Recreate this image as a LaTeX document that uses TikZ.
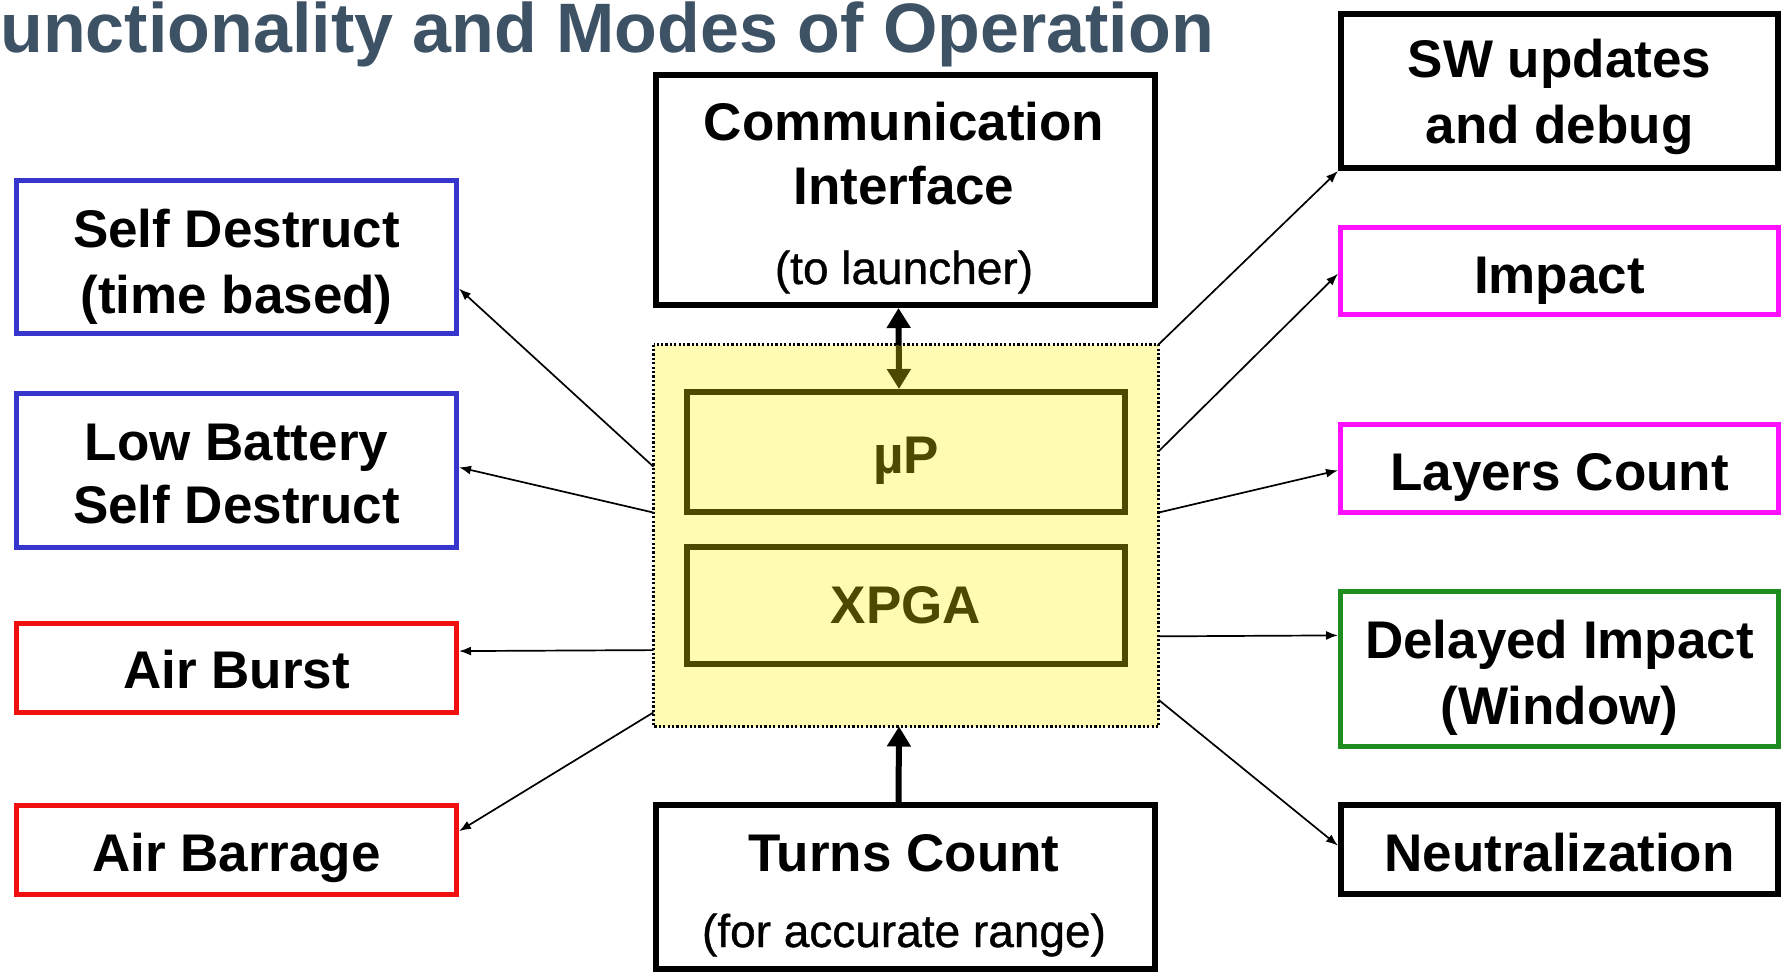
\documentclass[tikz,border=0pt]{standalone}
\usepackage{fontspec}
\setmainfont{Liberation Sans}
\usetikzlibrary{arrows.meta,calc}
\definecolor{titleblue}{HTML}{3E5266}
\definecolor{bluebox}{HTML}{3636CC}
\definecolor{magbox}{HTML}{FF10FF}
\definecolor{redbox}{HTML}{F01010}
\definecolor{greenbox}{HTML}{1E8C1E}

\begin{document}
\begin{tikzpicture}[x=0.5pt,y=-0.5pt,
  box/.style={draw, rectangle, inner sep=0pt, line width=3pt},
  cbox/.style={draw=#1, rectangle, inner sep=0pt, line width=2.5pt},
  lbl/.style={anchor=base, inner sep=0pt, font=\bfseries\fontsize{26.5}{30}\selectfont},
  sublbl/.style={anchor=base, inner sep=0pt,
    font=\fontsize{23}{27}\selectfont\addfontfeature{FakeBold=0.8}},
  link/.style={line width=0.85pt, -{Latex[length=6pt,width=4.5pt]}},
  fat/.style={line width=3pt, -{Triangle[length=10pt,width=11.5pt]}},
]
\useasboundingbox (0,0) rectangle (1787,973);

% heading
\node[anchor=base west, inner sep=0pt, text=titleblue,
      font=\bfseries\fontsize{35}{40}\selectfont] (title) at (0,53)
      {unctionality and Modes of Operation};

% upper and lower interface boxes
\node[box, minimum width=249.5pt, minimum height=115pt] (comm) at (905.5,190) {};
\node[lbl] (commA) at (904,141) {Communication};
\node[lbl] (commB) at (904,205) {Interface};
\node[sublbl] (commC) at (904,284) {(to launcher)};

\node[box, minimum width=249.5pt, minimum height=82pt] (turns) at (905.5,887) {};
\node[lbl] (turnsA) at (904,871) {Turns Count};
\node[sublbl] (turnsB) at (904,947) {(for accurate range)};

% left column
\node[cbox=bluebox, minimum width=220pt, minimum height=76.5pt] (selfd) at (236.5,257) {};
\node[lbl] (selfdA) at (236.5,248) {Self Destruct};
\node[lbl] (selfdB) at (236.5,313) {(time based)};

\node[cbox=bluebox, minimum width=220pt, minimum height=77pt] (lowbat) at (236.5,470.5) {};
\node[lbl] (lowbatA) at (236.5,460) {Low Battery};
\node[lbl] (lowbatB) at (236.5,523) {Self Destruct};

\node[cbox=redbox, minimum width=220pt, minimum height=44.5pt] (burst) at (236.5,668) {};
\node[lbl] (burstA) at (236.5,688) {Air Burst};

\node[cbox=redbox, minimum width=220pt, minimum height=44.5pt] (barrage) at (236.5,850) {};
\node[lbl] (barrageA) at (236.5,871) {Air Barrage};

% right column
\node[box, minimum width=218.5pt, minimum height=77pt] (sw) at (1559.5,91) {};
\node[lbl] (swA) at (1559.5,78) {SW updates};
\node[lbl] (swB) at (1559.5,144) {and debug};

\node[cbox=magbox, minimum width=219pt, minimum height=43.5pt] (impact) at (1559.5,271) {};
\node[lbl] (impactA) at (1559.5,293) {Impact};

\node[cbox=magbox, minimum width=219pt, minimum height=44pt] (layers) at (1559.5,468.5) {};
\node[lbl] (layersA) at (1559.5,490) {Layers Count};

\node[cbox=greenbox, minimum width=219pt, minimum height=77.5pt] (delayed) at (1559.5,669) {};
\node[lbl] (delayedA) at (1559.5,658) {Delayed Impact};
\node[lbl] (delayedB) at (1559.5,724) {(Window)};

\node[box, minimum width=218.5pt, minimum height=44.5pt] (neutral) at (1559.5,849.5) {};
\node[lbl] (neutralA) at (1559.5,871) {Neutralization};

% processing core: µP and XPGA under a translucent yellow panel
\node[rectangle, inner sep=0pt, line width=1pt, minimum width=251.5pt,
      minimum height=190pt] (core) at (906,535.5) {};
\node[box, minimum width=219pt, minimum height=60pt] (mu) at (906,452) {};
\node[lbl] (muA) at (906,473) {µP};
\node[box, minimum width=219pt, minimum height=58.5pt] (xpga) at (906,605.5) {};
\node[lbl] (xpgaA) at (906,623) {XPGA};

\draw[fat, {Triangle[length=10pt,width=11.5pt]}-{Triangle[length=10pt,width=11.5pt]}]
  ([xshift=-3.5pt]comm.south) -- ([xshift=-3.5pt]mu.north);

\fill[yellow, fill opacity=0.3] (core.north west) rectangle (core.south east);
\draw[line width=1.2pt, dash pattern=on 1.1pt off 1.1pt]
  (core.north west) rectangle (core.south east);

\draw[fat] ([xshift=-3.5pt]turns.north) -- ([xshift=-3.5pt]core.south);

% outputs to the left
\draw[link] ($(core.north west)!0.32!(core.south west)$) -- ($(selfd.north east)!0.70!(selfd.south east)$);
\draw[link] ($(core.north west)!0.44!(core.south west)$) -- ($(lowbat.north east)!0.48!(lowbat.south east)$);
\draw[link] ($(core.north west)!0.80!(core.south west)$) -- ($(burst.north east)!0.32!(burst.south east)$);
\draw[link] ($(core.north west)!0.963!(core.south west)$) -- ($(barrage.north east)!0.30!(barrage.south east)$);

% outputs to the right
\draw[link] (core.north east) -- (sw.south west);
\draw[link] ($(core.north east)!0.28!(core.south east)$) -- ($(impact.north west)!0.53!(impact.south west)$);
\draw[link] ($(core.north east)!0.44!(core.south east)$) -- ($(layers.north west)!0.52!(layers.south west)$);
\draw[link] ($(core.north east)!0.764!(core.south east)$) -- ($(delayed.north west)!0.29!(delayed.south west)$);
\draw[link] ($(core.north east)!0.93!(core.south east)$) -- ($(neutral.north west)!0.46!(neutral.south west)$);
\end{tikzpicture}
\end{document}
